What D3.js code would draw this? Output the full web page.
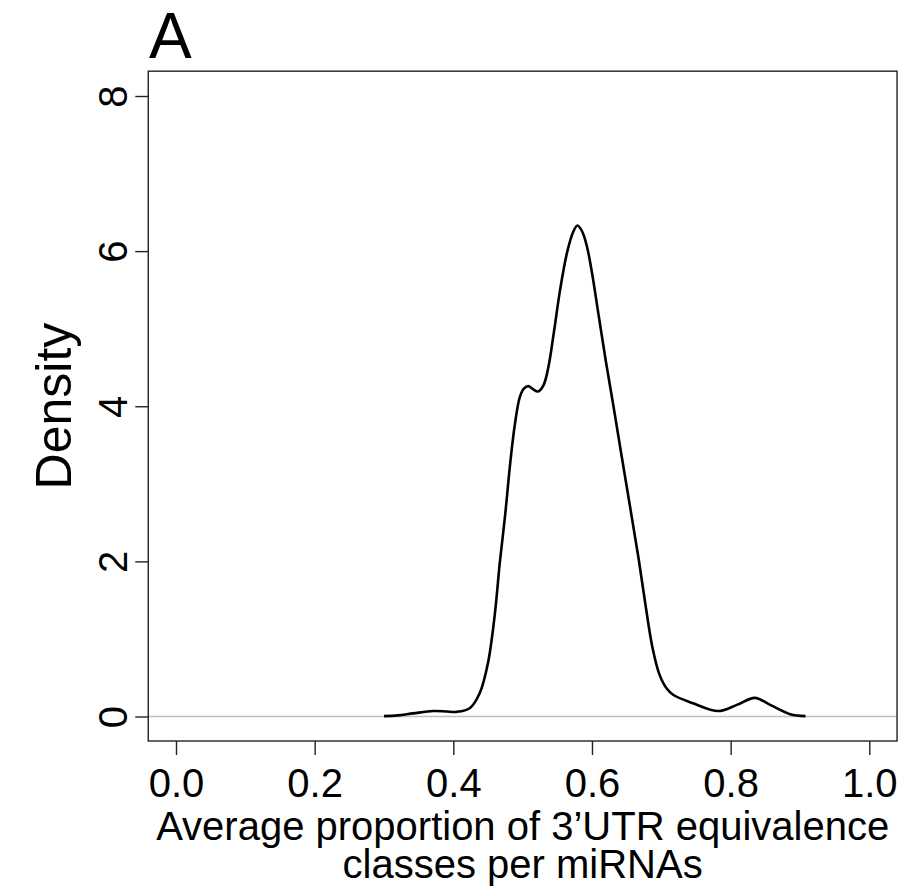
<!DOCTYPE html>
<html>
<head>
<meta charset="utf-8">
<script src="https://cdn.jsdelivr.net/npm/d3@7"></script>
<style>
  body { margin: 0; background: #fff; }
  text { font-family: "Liberation Sans", Arial, Helvetica, sans-serif; fill: #000; }
</style>
</head>
<body>
<div class="chart"></div>
<script>
//Density curve
var proportion = [0.300, 0.320, 0.342, 0.371, 0.390, 0.405, 0.424, 0.438, 0.450, 0.460,
    0.467, 0.475, 0.482, 0.489, 0.496, 0.502, 0.508, 0.515, 0.522, 0.530,
    0.537, 0.545, 0.554, 0.564, 0.573, 0.579, 0.586, 0.593, 0.600, 0.610,
    0.620, 0.631, 0.642, 0.655, 0.667, 0.677, 0.687, 0.697, 0.707, 0.717,
    0.746, 0.782, 0.809, 0.835, 0.857, 0.886, 0.908];
var density = [0.005, 0.015, 0.04, 0.07, 0.065, 0.06, 0.11, 0.30, 0.69, 1.33,
    1.98, 2.62, 3.26, 3.78, 4.12, 4.23, 4.26, 4.22, 4.19, 4.27,
    4.50, 4.95, 5.50, 5.98, 6.25, 6.33, 6.25, 6.05, 5.72, 5.15,
    4.58, 4.00, 3.40, 2.70, 2.05, 1.45, 0.90, 0.55, 0.37, 0.28,
    0.17, 0.07, 0.15, 0.24, 0.15, 0.03, 0.005];

//Tick labels
var xTicks = [0, 0.2, 0.4, 0.6, 0.8, 1.0];
var yTicks = [0, 2, 4, 6, 8];

var panelLabel = "A";
var xLabel = ["Average proportion of 3\u2019UTR equivalence", "classes per miRNAs"];
var yLabel = "Density";

//Width and height
var w = 902;
var h = 890;

var svg = d3.select(".chart")
    .append("svg")
    .attr("width", w)
    .attr("height", h);

//Scales
var xScale = d3.scaleLinear()
    .domain([0, 1])
    .range([176, 869.3]);

var yScale = d3.scaleLinear()
    .domain([0, 8])
    .range([716.5, 96]);

//Plot box edges (R adds 4% on both sides)
var boxLeft = xScale(-0.04);
var boxRight = xScale(1.04);
var boxTop = yScale(8.32);
var boxBottom = yScale(-0.316);

//Zero line
svg.append("line")
    .attr("x1", boxLeft)
    .attr("x2", boxRight)
    .attr("y1", yScale(0))
    .attr("y2", yScale(0))
    .attr("stroke", "#bebebe")
    .attr("stroke-width", 1.5);

//Density curve
var line = d3.line()
    .x((d, i) => xScale(proportion[i]))
    .y(d => yScale(d))
    .curve(d3.curveCatmullRom.alpha(0.5));

svg.append("path")
    .datum(density)
    .attr("d", line)
    .attr("fill", "none")
    .attr("stroke", "#000")
    .attr("stroke-width", 2.6)
    .attr("stroke-linejoin", "round");

//Box
svg.append("rect")
    .attr("x", boxLeft)
    .attr("y", boxTop)
    .attr("width", boxRight - boxLeft)
    .attr("height", boxBottom - boxTop)
    .attr("fill", "none")
    .attr("stroke", "#222")
    .attr("stroke-width", 1.4);

//X axis
var xAxis = d3.axisBottom(xScale)
    .tickValues(xTicks)
    .tickFormat(d3.format(".1f"))
    .tickSize(14)
    .tickSizeOuter(0);

var gx = svg.append("g")
    .attr("transform", "translate(0," + boxBottom + ")")
    .call(xAxis);
gx.select(".domain").remove();
gx.selectAll("line").attr("stroke", "#222").attr("stroke-width", 1.4);
gx.selectAll("text")
    .attr("y", 56)
    .attr("dy", null)
    .style("font-size", "40px")
    .attr("font-family", null);

//Y axis
var yAxis = d3.axisLeft(yScale)
    .tickValues(yTicks)
    .tickSize(13)
    .tickSizeOuter(0);

var gy = svg.append("g")
    .attr("transform", "translate(" + boxLeft + ",0)")
    .call(yAxis);
gy.select(".domain").remove();
gy.selectAll("line").attr("stroke", "#222").attr("stroke-width", 1.4);
gy.selectAll("text")
    .attr("x", null)
    .attr("dy", null)
    .attr("text-anchor", "middle")
    .attr("transform", "translate(-21,0) rotate(-90)")
    .style("font-size", "40px")
    .attr("font-family", null);

//Axis titles
var cx = (boxLeft + boxRight) / 2;
svg.selectAll(".xlab")
    .data(xLabel)
    .enter()
    .append("text")
    .attr("class", "xlab")
    .attr("x", cx)
    .attr("y", (d, i) => 840 + i * 38)
    .attr("text-anchor", "middle")
    .style("font-size", "40px")
    .text(d => d);

svg.append("text")
    .attr("transform", "translate(71," + ((boxTop + boxBottom) / 2) + ") rotate(-90)")
    .attr("text-anchor", "middle")
    .style("font-size", "50px")
    .text(yLabel);

//Panel letter
svg.append("text")
    .attr("x", 149)
    .attr("y", 58)
    .style("font-size", "64px")
    .text(panelLabel);
</script>
</body>
</html>
